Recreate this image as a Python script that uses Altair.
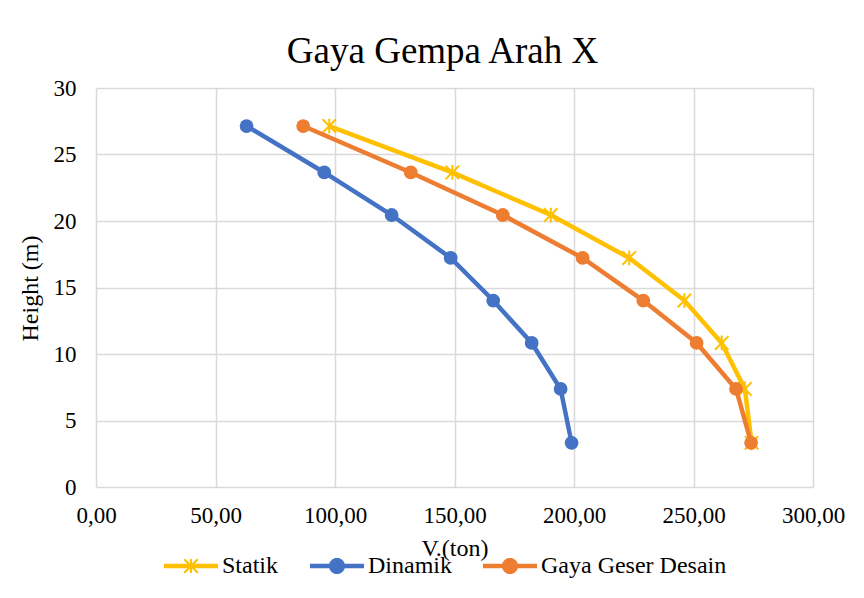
import math
import altair as alt
import pandas as pd

heights = [27.14, 23.65, 20.45, 17.22, 14.02, 10.83, 7.37, 3.32]
statik = [97.6, 149.1, 190.3, 223.1, 246.2, 261.8, 271.5, 274.3]
dinamik = [63.0, 95.5, 123.7, 148.4, 166.2, 182.3, 194.4, 199.0]
desain = [86.7, 131.7, 170.2, 203.6, 229.0, 251.3, 267.8, 274.1]

series_names = ["Statik", "Dinamik", "Gaya Geser Desain"]
series_colors = ["#FFC000", "#4472C4", "#ED7D31"]
x_ticks = [0, 50, 100, 150, 200, 250, 300]
y_ticks = [0, 5, 10, 15, 20, 25, 30]

rows = []
for name, vals in zip(series_names, [statik, dinamik, desain]):
    for i, (hh, v) in enumerate(zip(heights, vals)):
        rows.append({"series": name, "V": v, "H": hh, "ord": i})
df = pd.DataFrame(rows)

FONT = "Liberation Serif"


def f(v):
    return f"{v:.4f}"


def poly(pts):
    return "M" + "L".join(f"{f(x)},{f(y)}" for x, y in pts) + "Z"


# legend symbol paths: horizontal bar + marker (unit box, x in [-1,1])
h = 0.085
bar = poly([(-1, -h), (1, -h), (1, h), (-1, h)])
r = 0.3
circ = poly([(r * math.cos(2 * math.pi * k / 28), r * math.sin(2 * math.pi * k / 28)) for k in range(28)])
a, w = 0.25, 0.028
star = (
    poly([(-a + w, -a - w), (a + w, a - w), (a - w, a + w), (-a - w, -a + w)])
    + poly([(-a - w, a - w), (a - w, -a - w), (a + w, -a + w), (-a + w, a + w)])
    + poly([(1.4 * w, -1.05 * a), (1.4 * w, 1.05 * a), (-1.4 * w, 1.05 * a), (-1.4 * w, -1.05 * a)])
)
legend_shapes = [bar + star, bar + circ, bar + circ]
asterisk = "M-1,-1L1,1M-1,1L1,-1M0,-1.1L0,1.1"

color_scale = alt.Scale(domain=series_names, range=series_colors)
xenc = alt.X(
    "V:Q",
    scale=alt.Scale(domain=[0, 300], nice=False),
    axis=alt.Axis(
        values=x_ticks,
        title="V.(ton)",
        labelExpr="replace(format(datum.value, '.2f'), '.', ',')",
        labelFlush=False,
        titleY=68,
        titleBaseline="alphabetic",
        labelPadding=17,
    ),
)
yenc = alt.Y(
    "H:Q",
    scale=alt.Scale(domain=[0, 30], nice=False),
    axis=alt.Axis(
        values=y_ticks,
        title="Height (m)",
        titleX=-59,
        titleY=200,
        titleAngle=270,
        titleBaseline="alphabetic",
        titleAlign="center",
        labelPadding=20,
        labelFlush=False,
    ),
)

base = alt.Chart(df)

legend = alt.Legend(
    title=None,
    orient="none",
    legendX=68,
    legendY=451,
    direction="horizontal",
    labelFont=FONT,
    labelFontSize=24,
    labelColor="#000000",
    labelLimit=400,
    symbolSize=2916,
    symbolOpacity=1,
    symbolStrokeWidth=0,
    columnPadding=31,
    labelOffset=4,
)
# invisible layer that only carries the legend (placed first so its legend wins the merge)
legend_layer = base.mark_point(filled=True, opacity=0, size=10).encode(
    x=xenc, y=yenc,
    color=alt.Color("series:N", scale=color_scale, legend=legend),
    shape=alt.Shape("series:N", scale=alt.Scale(domain=series_names, range=legend_shapes), legend=legend),
)
layers = [legend_layer]

for name, col in zip(series_names, series_colors):
    sub = base.transform_filter(alt.datum.series == name)
    layers.append(
        sub.mark_line(strokeWidth=4.5, color=col).encode(
            x="V:Q", y="H:Q", order="ord:Q",
        )
    )
    if name == "Statik":
        layers.append(
            sub.mark_point(shape=asterisk, filled=False, size=180, strokeWidth=2, opacity=1, color=col).encode(
                x="V:Q", y="H:Q",
            )
        )
    else:
        layers.append(
            sub.mark_point(shape="circle", filled=True, size=190, opacity=1, color=col).encode(
                x="V:Q", y="H:Q",
            )
        )

chart = alt.layer(*layers).properties(
    width=717,
    height=399,
    autosize=alt.AutoSizeParams(type="none"),
    padding={"left": 88, "top": 80, "right": 40, "bottom": 110},
    title=alt.Title(
        "Gaya Gempa Arah X",
        font=FONT,
        fontSize=37,
        fontWeight="normal",
        color="#000000",
        anchor="middle",
        dx=-12,
        baseline="alphabetic",
        offset=-23,
    ),
).configure_axis(
    labelFont=FONT,
    labelFontSize=23,
    labelColor="#000000",
    titleFont=FONT,
    titleFontSize=24,
    titleFontWeight="normal",
    titleColor="#000000",
    grid=True,
    gridColor="#D9D9D9",
    gridWidth=1.5,
    domain=False,
    ticks=False,
).configure_view(stroke=None)

chart.save("out.html", embed_options={"renderer": "svg", "actions": False})
